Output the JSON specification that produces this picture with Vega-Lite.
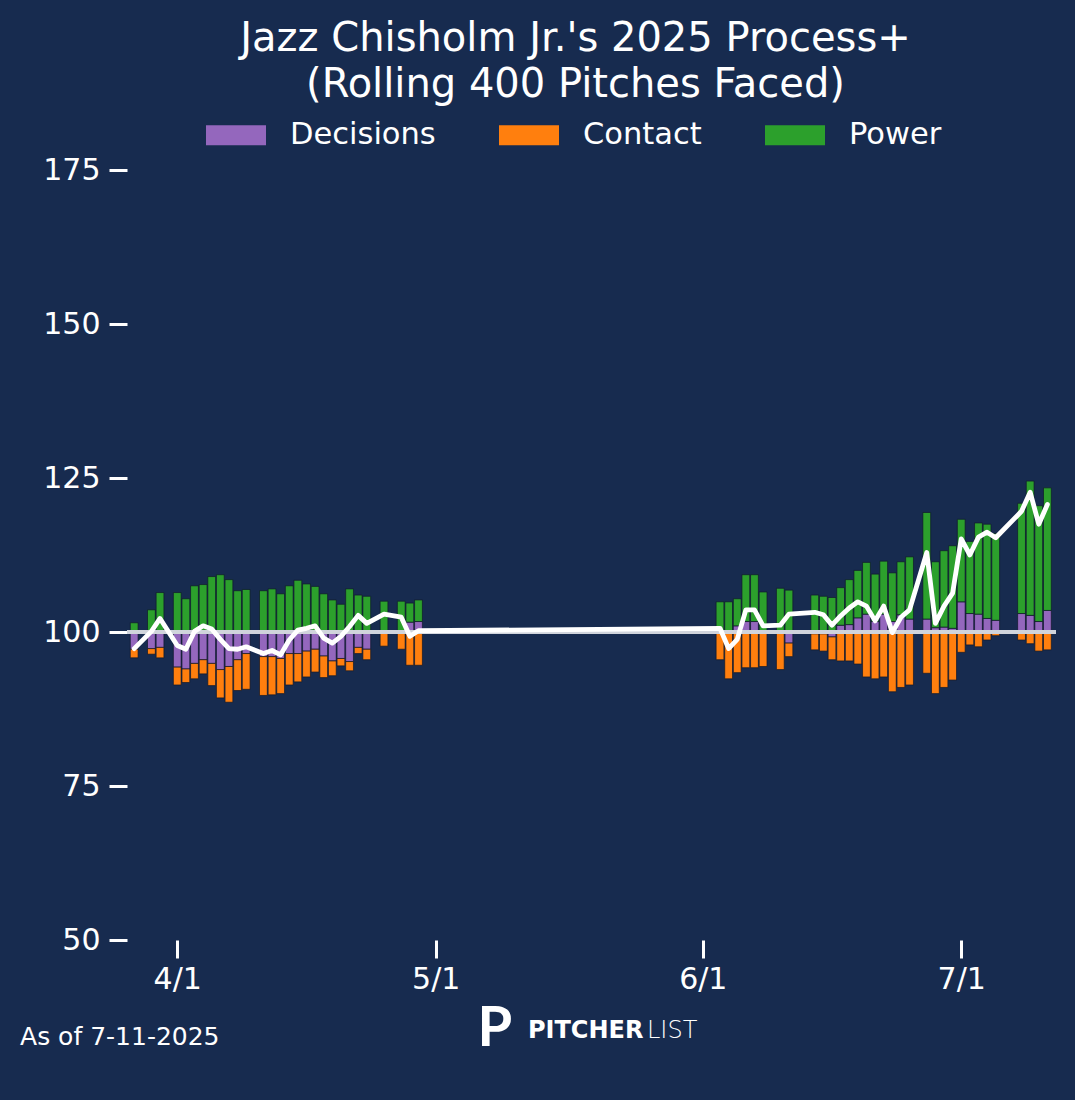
{
  "$schema": "https://vega.github.io/schema/vega-lite/v6.json",
  "description": "Jazz Chisholm Jr.'s 2025 Process+ (rolling 400 pitches faced)",
  "width": 929,
  "height": 770,
  "autosize": {"type": "none"},
  "padding": {"left": 127, "top": 170, "right": 19, "bottom": 160},
  "background": "#172b4f",
  "config": {
    "view": {"stroke": null},
    "font": "DejaVu Sans",
    "axis": {
      "labelColor": "white",
      "labelFont": "DejaVu Sans",
      "labelFontSize": 30,
      "tickColor": "white",
      "tickWidth": 3,
      "tickSize": 18,
      "domain": false,
      "grid": false,
      "title": null
    }
  },
  "title": {
    "text": ["Jazz Chisholm Jr.'s 2025 Process+", "(Rolling 400 Pitches Faced)"],
    "color": "white",
    "font": "DejaVu Sans",
    "fontSize": 40,
    "fontWeight": "normal",
    "lineHeight": 46,
    "anchor": "middle",
    "frame": "group",
    "dx": -16,
    "offset": 0
  },
  "datasets": {
    "games": [
      {"date": "2025-03-27T00:00", "Decisions": -2.8, "Contact": -1.4, "Power": 1.5, "process": 97.3},
      {"date": "2025-03-29T00:00", "Decisions": -2.7, "Contact": -0.9, "Power": 3.6, "process": 100.1},
      {"date": "2025-03-30T00:00", "Decisions": -2.5, "Contact": -1.7, "Power": 6.4, "process": 102.2},
      {"date": "2025-04-01T00:00", "Decisions": -5.7, "Contact": -2.9, "Power": 6.4, "process": 97.8},
      {"date": "2025-04-02T00:00", "Decisions": -6.0, "Contact": -2.2, "Power": 5.4, "process": 97.2},
      {"date": "2025-04-03T00:00", "Decisions": -5.1, "Contact": -2.5, "Power": 7.5, "process": 100.1},
      {"date": "2025-04-04T00:00", "Decisions": -4.5, "Contact": -2.3, "Power": 7.7, "process": 101.0},
      {"date": "2025-04-05T00:00", "Decisions": -5.1, "Contact": -3.6, "Power": 9.0, "process": 100.5},
      {"date": "2025-04-06T00:00", "Decisions": -6.1, "Contact": -4.6, "Power": 9.3, "process": 98.8},
      {"date": "2025-04-07T00:00", "Decisions": -5.6, "Contact": -5.8, "Power": 8.5, "process": 97.3},
      {"date": "2025-04-08T00:00", "Decisions": -4.5, "Contact": -5.0, "Power": 6.7, "process": 97.2},
      {"date": "2025-04-09T00:00", "Decisions": -3.5, "Contact": -5.8, "Power": 6.9, "process": 97.6},
      {"date": "2025-04-11T00:00", "Decisions": -4.0, "Contact": -6.3, "Power": 6.7, "process": 96.5},
      {"date": "2025-04-12T00:00", "Decisions": -4.0, "Contact": -6.2, "Power": 7.0, "process": 97.0},
      {"date": "2025-04-13T00:00", "Decisions": -4.3, "Contact": -5.7, "Power": 6.2, "process": 96.3},
      {"date": "2025-04-14T00:00", "Decisions": -3.5, "Contact": -5.1, "Power": 7.5, "process": 98.7},
      {"date": "2025-04-15T00:00", "Decisions": -3.5, "Contact": -4.6, "Power": 8.4, "process": 100.3},
      {"date": "2025-04-16T00:00", "Decisions": -3.1, "Contact": -4.2, "Power": 7.8, "process": 100.6},
      {"date": "2025-04-17T00:00", "Decisions": -2.8, "Contact": -3.7, "Power": 7.4, "process": 101.0},
      {"date": "2025-04-18T00:00", "Decisions": -3.9, "Contact": -3.5, "Power": 6.2, "process": 99.0},
      {"date": "2025-04-19T00:00", "Decisions": -4.7, "Contact": -2.4, "Power": 5.2, "process": 98.2},
      {"date": "2025-04-20T00:00", "Decisions": -4.3, "Contact": -1.2, "Power": 4.5, "process": 99.3},
      {"date": "2025-04-21T00:00", "Decisions": -4.8, "Contact": -1.5, "Power": 7.0, "process": 100.9},
      {"date": "2025-04-22T00:00", "Decisions": -2.5, "Contact": -1.0, "Power": 6.0, "process": 102.7},
      {"date": "2025-04-23T00:00", "Decisions": -2.8, "Contact": -1.7, "Power": 5.8, "process": 101.4},
      {"date": "2025-04-25T00:00", "Decisions": 0.1, "Contact": -2.3, "Power": 4.9, "process": 102.9},
      {"date": "2025-04-27T00:00", "Decisions": 0.1, "Contact": -2.8, "Power": 4.9, "process": 102.4},
      {"date": "2025-04-28T00:00", "Decisions": 1.6, "Contact": -5.4, "Power": 3.1, "process": 99.3},
      {"date": "2025-04-29T00:00", "Decisions": 1.7, "Contact": -5.4, "Power": 3.5, "process": 100.2},
      {"date": "2025-06-03T00:00", "Decisions": 0.2, "Contact": -4.5, "Power": 4.7, "process": 100.6},
      {"date": "2025-06-04T00:00", "Decisions": 0.1, "Contact": -7.6, "Power": 4.8, "process": 97.3},
      {"date": "2025-06-05T00:00", "Decisions": 1.0, "Contact": -6.6, "Power": 4.4, "process": 98.8},
      {"date": "2025-06-06T00:00", "Decisions": 1.7, "Contact": -5.8, "Power": 7.6, "process": 103.6},
      {"date": "2025-06-07T00:00", "Decisions": 1.7, "Contact": -5.8, "Power": 7.6, "process": 103.6},
      {"date": "2025-06-08T00:00", "Decisions": 0.1, "Contact": -5.6, "Power": 6.4, "process": 101.0},
      {"date": "2025-06-10T00:00", "Decisions": 0.1, "Contact": -6.1, "Power": 7.0, "process": 101.1},
      {"date": "2025-06-11T00:00", "Decisions": -1.8, "Contact": -2.2, "Power": 6.8, "process": 102.9},
      {"date": "2025-06-14T00:00", "Decisions": -0.3, "Contact": -2.6, "Power": 6.0, "process": 103.2},
      {"date": "2025-06-15T00:00", "Decisions": -0.3, "Contact": -2.8, "Power": 5.8, "process": 102.8},
      {"date": "2025-06-16T00:00", "Decisions": -0.8, "Contact": -3.7, "Power": 5.6, "process": 101.1},
      {"date": "2025-06-17T00:00", "Decisions": 1.1, "Contact": -4.7, "Power": 6.1, "process": 102.6},
      {"date": "2025-06-18T00:00", "Decisions": 1.2, "Contact": -4.7, "Power": 7.3, "process": 103.9},
      {"date": "2025-06-19T00:00", "Decisions": 2.3, "Contact": -5.2, "Power": 7.7, "process": 104.9},
      {"date": "2025-06-20T00:00", "Decisions": 2.9, "Contact": -7.3, "Power": 8.4, "process": 104.2},
      {"date": "2025-06-21T00:00", "Decisions": 1.7, "Contact": -7.6, "Power": 7.7, "process": 101.8},
      {"date": "2025-06-22T00:00", "Decisions": 2.9, "Contact": -7.3, "Power": 8.6, "process": 104.2},
      {"date": "2025-06-23T00:00", "Decisions": 1.7, "Contact": -9.7, "Power": 7.9, "process": 99.9},
      {"date": "2025-06-24T00:00", "Decisions": 2.8, "Contact": -9.0, "Power": 8.6, "process": 102.4},
      {"date": "2025-06-25T00:00", "Decisions": 2.1, "Contact": -8.6, "Power": 10.1, "process": 103.6},
      {"date": "2025-06-27T00:00", "Decisions": 2.1, "Contact": -6.7, "Power": 17.3, "process": 112.9},
      {"date": "2025-06-28T00:00", "Decisions": 0.7, "Contact": -10.0, "Power": 10.7, "process": 101.4},
      {"date": "2025-06-29T00:00", "Decisions": 0.8, "Contact": -9.0, "Power": 12.4, "process": 104.2},
      {"date": "2025-06-30T00:00", "Decisions": 0.6, "Contact": -7.8, "Power": 13.4, "process": 106.3},
      {"date": "2025-07-01T00:00", "Decisions": 4.9, "Contact": -3.3, "Power": 13.4, "process": 115.1},
      {"date": "2025-07-02T00:00", "Decisions": 3.0, "Contact": -2.1, "Power": 11.7, "process": 112.5},
      {"date": "2025-07-03T00:00", "Decisions": 2.9, "Contact": -2.4, "Power": 14.8, "process": 115.4},
      {"date": "2025-07-04T00:00", "Decisions": 2.2, "Contact": -1.3, "Power": 15.3, "process": 116.2},
      {"date": "2025-07-05T00:00", "Decisions": 1.9, "Contact": -0.6, "Power": 14.1, "process": 115.3},
      {"date": "2025-07-08T00:00", "Decisions": 3.0, "Contact": -1.3, "Power": 17.9, "process": 119.6},
      {"date": "2025-07-09T00:00", "Decisions": 2.7, "Contact": -1.9, "Power": 21.8, "process": 122.7},
      {"date": "2025-07-10T00:00", "Decisions": 1.7, "Contact": -3.1, "Power": 18.8, "process": 117.5},
      {"date": "2025-07-11T00:00", "Decisions": 3.5, "Contact": -2.9, "Power": 19.9, "process": 120.7}
    ]
  },
  "layer": [
    {
      "data": {"name": "games"},
      "transform": [
        {"fold": ["Decisions", "Contact", "Power"], "as": ["component", "value"]},
        {"window": [{"op": "row_number", "as": "stack_rank"}], "groupby": ["date"]}
      ],
      "mark": {"type": "bar", "width": 7.8, "stroke": "#10182b", "strokeWidth": 0.7},
      "encoding": {
        "x": {
          "field": "date",
          "type": "temporal",
          "scale": {
            "domain": [{"year": 2025, "month": 3, "date": 26, "hours": 4}, {"year": 2025, "month": 7, "date": 12}],
            "padding": 0
          },
          "axis": {
            "values": [
              {"year": 2025, "month": 4, "date": 1},
              {"year": 2025, "month": 5, "date": 1},
              {"year": 2025, "month": 6, "date": 1},
              {"year": 2025, "month": 7, "date": 1}
            ],
            "format": "%-m/%-d",
            "labelPadding": 6
          }
        },
        "y": {
          "field": "value",
          "type": "quantitative",
          "stack": "zero",
          "scale": {"domain": [-50, 75], "nice": false, "zero": false},
          "axis": null
        },
        "color": {
          "field": "component",
          "type": "nominal",
          "scale": {"domain": ["Decisions", "Contact", "Power"], "range": ["#9467bd", "#ff7f0e", "#2ca02c"]},
          "legend": {
            "title": null,
            "orient": "none",
            "direction": "horizontal",
            "legendX": 79,
            "legendY": -65,
            "padding": 0,
            "symbolType": "M-1,-0.333H1V0.333H-1Z",
            "symbolSize": 3600,
            "symbolStrokeWidth": 0,
            "symbolOpacity": 1,
            "labelColor": "white",
            "labelFont": "DejaVu Sans",
            "labelFontSize": 30.5,
            "labelOffset": 24,
            "columnPadding": 63
          }
        },
        "order": {"field": "stack_rank", "type": "quantitative"}
      }
    },
    {
      "layer": [
        {
          "data": {"values": [{}]},
          "mark": {"type": "rule", "color": "#d0d4dc", "strokeWidth": 4},
          "encoding": {
            "y": {"datum": 100, "type": "quantitative", "scale": {"domain": [50, 175], "nice": false, "zero": false}}
          }
        },
        {
          "data": {"name": "games"},
          "mark": {"type": "line", "color": "white", "strokeWidth": 4.8, "strokeJoin": "round", "strokeCap": "round"},
          "encoding": {
            "x": {"field": "date", "type": "temporal"},
            "y": {
              "field": "process",
              "type": "quantitative",
              "scale": {"domain": [50, 175], "nice": false, "zero": false},
              "axis": {"values": [50, 75, 100, 125, 150, 175], "labelPadding": 9}
            }
          }
        },
        {
          "data": {"values": [{"note": "As of 7-11-2025"}]},
          "mark": {"type": "text", "align": "left", "baseline": "middle", "color": "white", "font": "DejaVu Sans", "fontSize": 25},
          "encoding": {
            "text": {"field": "note"},
            "x": {"datum": {"year": 2025, "month": 3, "date": 13, "hours": 18}, "type": "temporal"},
            "y": {"datum": 34.3, "type": "quantitative"}
          }
        },
        {
          "data": {"values": [{"mark": "P"}]},
          "mark": {"type": "text", "align": "center", "baseline": "middle", "color": "white", "font": "Lato", "fontWeight": "bold", "fontSize": 56},
          "encoding": {
            "text": {"field": "mark"},
            "x": {"datum": {"year": 2025, "month": 5, "date": 7, "hours": 21}, "type": "temporal"},
            "y": {"datum": 35.6, "type": "quantitative"}
          }
        },
        {
          "data": {"values": [{"brand": "PITCHER"}]},
          "mark": {"type": "text", "align": "left", "baseline": "middle", "color": "white", "font": "DejaVu Sans", "fontWeight": "bold", "fontSize": 24},
          "encoding": {
            "text": {"field": "brand"},
            "x": {"datum": {"year": 2025, "month": 5, "date": 11, "hours": 17}, "type": "temporal"},
            "y": {"datum": 35.2, "type": "quantitative"}
          }
        },
        {
          "data": {"values": [{"brand": "LIST"}]},
          "mark": {"type": "text", "align": "left", "baseline": "middle", "color": "white", "font": "DejaVu Sans", "fontWeight": 200, "fontSize": 24},
          "encoding": {
            "text": {"field": "brand"},
            "x": {"datum": {"year": 2025, "month": 5, "date": 25, "hours": 12, "minutes": 36}, "type": "temporal"},
            "y": {"datum": 35.2, "type": "quantitative"}
          }
        }
      ]
    }
  ],
  "resolve": {"scale": {"y": "independent"}}
}
